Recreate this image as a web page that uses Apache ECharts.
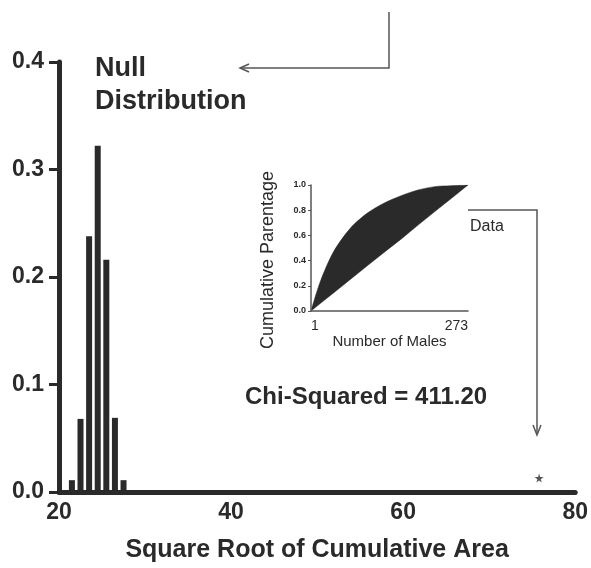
<!DOCTYPE html>
<html>
<head>
<meta charset="utf-8">
<script src="https://cdn.jsdelivr.net/npm/echarts@6/dist/echarts.min.js"></script>
<style>
  html, body { margin: 0; padding: 0; background: #fff; }
  #main { width: 591px; height: 568px; }
</style>
</head>
<body>
<div id="main"></div>
<script>
// null distribution histogram (bin centres and frequencies)
var binCenters = [21.5, 22.5, 23.5, 24.5, 25.5, 26.5, 27.5];
var binFreq = [0.011, 0.068, 0.238, 0.322, 0.216, 0.069, 0.011];
// observed statistic
var observed = [[75.8, 0.013]];

// inset: cumulative parentage vs number of males
var males = [1, 17, 40, 69, 98, 127, 157, 186, 215, 244, 273];
var observedCum = [0, 0.233, 0.47, 0.656, 0.775, 0.855, 0.915, 0.96, 0.987, 0.995, 1.0];
var expectedCum = [0, 0.059, 0.143, 0.25, 0.357, 0.463, 0.57, 0.68, 0.787, 0.893, 1.0];

var ink = '#2a2a2a';
var font = 'Liberation Sans';
var star = 'path://M50,0 L61,35 L98,35 L68,57 L79,91 L50,70 L21,91 L32,57 L2,35 L39,35 Z';

var chart = echarts.init(document.getElementById('main'));

function pairs(xs, ys) {
  return xs.map(function (x, i) { return [x, ys[i]]; });
}

chart.setOption({
  backgroundColor: '#fff',
  animation: false,
  textStyle: { fontFamily: font, color: ink },
  grid: [
    { left: 59, right: 13, top: 62, bottom: 74 },
    { left: 311, top: 185, width: 157, height: 126 }
  ],
  xAxis: [{
    gridIndex: 0, type: 'value', min: 20, max: 80, interval: 20,
    axisLine: { lineStyle: { color: ink, width: 5 } },
    axisTick: { show: false },
    splitLine: { show: false },
    axisLabel: { color: ink, fontSize: 23, fontWeight: 'bold', margin: 9 },
    name: 'Square Root of Cumulative Area', nameLocation: 'middle', nameGap: 46,
    nameTextStyle: { color: ink, fontSize: 25, fontWeight: 'bold' }
  }, {
    gridIndex: 1, type: 'value', min: 1, max: 273, z: 5,
    axisLine: { lineStyle: { color: '#555', width: 1.5 } },
    axisTick: { show: false },
    splitLine: { show: false },
    axisLabel: { customValues: [1, 273], color: ink, fontSize: 14, margin: 8,
      alignMinLabel: 'left', alignMaxLabel: 'right' },
    name: 'Number of Males', nameLocation: 'middle', nameGap: 22,
    nameTextStyle: { color: ink, fontSize: 15 }
  }],
  yAxis: [{
    gridIndex: 0, type: 'value', min: 0, max: 0.4, interval: 0.1,
    axisLine: { show: true, lineStyle: { color: ink, width: 5 } },
    axisTick: { show: true, length: 10, lineStyle: { color: ink, width: 3 } },
    splitLine: { show: false },
    axisLabel: { color: ink, fontSize: 23, fontWeight: 'bold', margin: 15,
      formatter: function (v) { return v.toFixed(1); } }
  }, {
    gridIndex: 1, type: 'value', min: 0, max: 1, interval: 0.2, z: 5,
    axisLine: { show: true, lineStyle: { color: '#555', width: 1.5 } },
    axisTick: { show: true, length: 3, lineStyle: { color: '#555', width: 1 } },
    splitLine: { show: false },
    axisLabel: { color: ink, fontSize: 9, fontWeight: 'bold', margin: 5,
      formatter: function (v) { return v.toFixed(1); } }
  }],
  series: [{
    type: 'bar', xAxisIndex: 0, yAxisIndex: 0,
    data: pairs(binCenters, binFreq),
    barWidth: 6,
    itemStyle: { color: ink }
  }, {
    type: 'scatter', xAxisIndex: 0, yAxisIndex: 0,
    data: observed, symbol: star, symbolSize: 9,
    itemStyle: { color: ink }
  }, {
    // observed cumulative curve, filled dark
    type: 'line', xAxisIndex: 1, yAxisIndex: 1,
    data: pairs(males, observedCum), symbol: 'none', smooth: 0.3,
    lineStyle: { color: ink, width: 0.5 },
    areaStyle: { color: ink, opacity: 1 }
  }, {
    // expected (diagonal) - white below it leaves only the gap dark
    type: 'line', xAxisIndex: 1, yAxisIndex: 1,
    data: pairs(males, expectedCum), symbol: 'none',
    lineStyle: { color: ink, width: 0.5 },
    areaStyle: { color: '#fff', opacity: 1 }
  }],
  graphic: [
    { type: 'text', left: 95, top: 52,
      style: { text: 'Null\nDistribution', fill: ink, font: 'bold 27px ' + font, lineHeight: 33 } },
    { type: 'text', x: 268, y: 260, rotation: Math.PI / 2,
      style: { text: 'Cumulative Parentage', fill: ink, font: '18px ' + font,
        align: 'center', verticalAlign: 'middle' } },
    { type: 'polyline', shape: { points: [[389, 12], [389, 68], [241, 68]] },
      style: { stroke: '#555', lineWidth: 1.5, fill: null } },
    { type: 'polyline', shape: { points: [[249, 64], [240, 68], [249, 72]] },
      style: { stroke: '#555', lineWidth: 1.5, fill: null } },
    { type: 'text', left: 470, top: 219,
      style: { text: 'Data', fill: ink, font: '16px ' + font } },
    { type: 'polyline', shape: { points: [[449, 210], [537, 210], [537, 434]] },
      style: { stroke: '#555', lineWidth: 1.5, fill: null } },
    { type: 'polyline', shape: { points: [[533, 425], [537, 435], [541, 425]] },
      style: { stroke: '#555', lineWidth: 1.5, fill: null } },
    { type: 'text', left: 245, top: 385,
      style: { text: 'Chi-Squared = 411.20', fill: ink, font: 'bold 24px ' + font } }
  ]
});
</script>
</body>
</html>
